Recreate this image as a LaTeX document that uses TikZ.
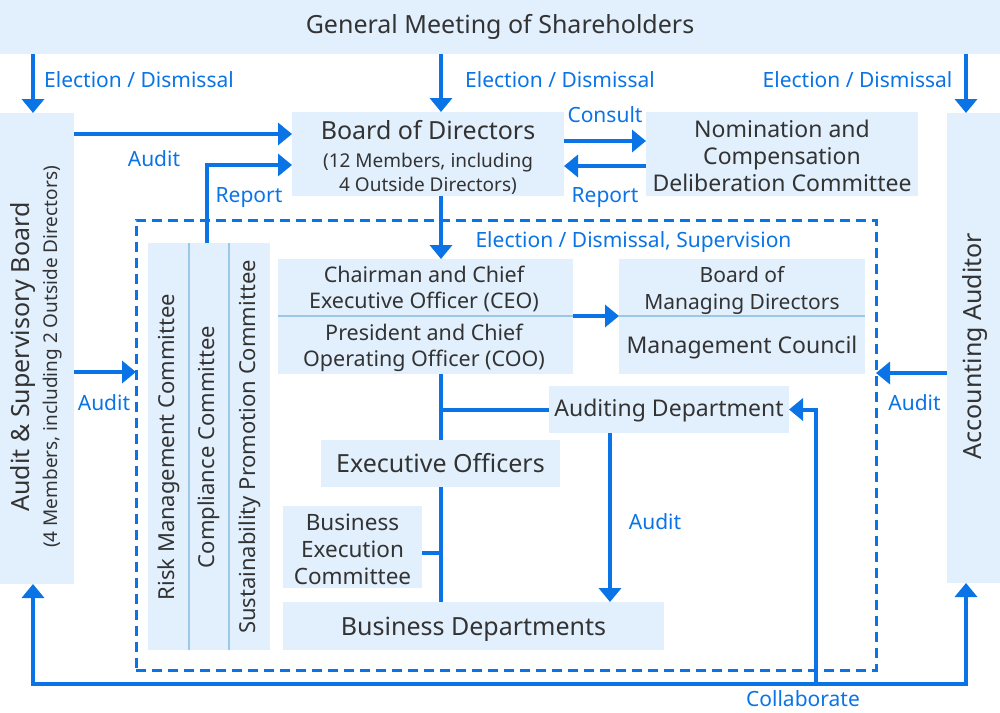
\documentclass[tikz,border=0pt]{standalone}
\usepackage{fontspec}
\setmainfont{Noto Sans}
\usetikzlibrary{arrows.meta,calc}
\definecolor{boxfill}{HTML}{E2F0FD}
\definecolor{ablue}{HTML}{0A74E6}
\definecolor{txt}{HTML}{333333}
\definecolor{divline}{HTML}{9CC8E8}
\newcommand{\fs}[2]{\fontsize{#1}{#2}\selectfont}
\begin{document}
\begin{tikzpicture}[x=1pt,y=-1pt,
 box/.style={fill=boxfill, inner sep=0pt, outer sep=0pt, text=txt, align=center},
 txtn/.style={text=txt, inner sep=0pt, align=center},
 lbl/.style={text=ablue, font=\fs{21}{25}, inner sep=0pt},
 arr/.style={draw=ablue, line width=4pt, -{Triangle[length=14pt,width=22pt]}},
 ln/.style={draw=ablue, line width=4pt},
 divl/.style={draw=divline, line width=2pt},
 dashbox/.style={draw=ablue, line width=3pt, dash pattern=on 10pt off 6pt, inner sep=0pt, outer sep=0pt}]
\useasboundingbox (0,0) rectangle (1000,712);

% boxes
\node[box, minimum width=1000pt, minimum height=54pt, font=\fs{25}{30}] (gm) at (500,27) {General Meeting of Shareholders};
\node[box, minimum width=74pt, minimum height=471pt] (asb) at (37,348.5) {};
\node[txtn, rotate=90, font=\fs{25}{30}] (asbT) at (23,357) {Audit \& Supervisory Board};
\node[txtn, rotate=90, font=\fs{19}{23}] (asbS) at (53,357) {(4 Members, including 2 Outside Directors)};
\node[box, minimum width=53pt, minimum height=470pt] (aa) at (973.5,348) {};
\node[txtn, rotate=90, font=\fs{25}{30}] (aaT) at (975,346) {Accounting Auditor};

\node[box, minimum width=272pt, minimum height=84pt] (bod) at (428,154) {};
\node[txtn, font=\fs{25}{30}] (bodT) at (428,130) {Board of Directors};
\node[txtn, font=\fs{19}{24}] (bodS) at (428,174) {(12 Members, including\\4 Outside Directors)};
\node[box, minimum width=272pt, minimum height=84pt] (nom) at (782,154) {};
\node[txtn, font=\fs{23}{27}] (nomT) at (782,155.5) {Nomination and\\Compensation\\Deliberation Committee};

\node[dashbox, minimum width=740pt, minimum height=450pt] (exec) at (506,445) {};

\node[box, minimum width=122pt, minimum height=407pt] (comm) at (209,446.5) {};
\draw[divl] ($(comm.north west)+(41,0)$) -- ($(comm.south west)+(41,0)$);
\draw[divl] ($(comm.north west)+(81,0)$) -- ($(comm.south west)+(81,0)$);
\node[txtn, rotate=90, font=\fs{22}{26}] (cRisk) at (169,447) {Risk Management Committee};
\node[txtn, rotate=90, font=\fs{22}{26}] (cComp) at (209,447) {Compliance Committee};
\node[txtn, rotate=90, font=\fs{22}{26}] (cSus) at (250,447) {Sustainability Promotion Committee};

\node[box, minimum width=295pt, minimum height=57pt] (ceo) at (425.5,287.5) {};
\node[txtn, font=\fs{21.5}{26}] (ceoT) at (424,288.5) {Chairman and Chief\\Executive Officer (CEO)};
\node[box, minimum width=295pt, minimum height=58pt] (coo) at (425.5,345) {};
\node[txtn, font=\fs{21.5}{26}] (cooT) at (424,348) {President and Chief\\Operating Officer (COO)};
\draw[divl] (ceo.south west) -- (ceo.south east);
\node[box, minimum width=246pt, minimum height=57pt] (bmd) at (742,287.5) {};
\node[txtn, font=\fs{21}{27}] (bmdT) at (742,290.5) {Board of\\Managing Directors};
\node[box, minimum width=246pt, minimum height=58pt] (mc) at (742,345) {};
\node[txtn, font=\fs{23}{27}] (mcT) at (742,348) {Management Council};
\draw[divl] (bmd.south west) -- (bmd.south east);

\node[box, minimum width=240pt, minimum height=47pt] (ad) at (669,409.5) {};
\node[txtn, font=\fs{23}{27}] (adT) at (669,411) {Auditing Department};
\node[box, minimum width=239pt, minimum height=47pt, font=\fs{25}{30}] (eo) at (440.5,463.5) {Executive Officers};
\node[box, minimum width=139pt, minimum height=82pt] (bec) at (352.5,547) {};
\node[txtn, font=\fs{22.5}{27}] (becT) at (352.5,549.5) {Business\\Execution\\Committee};
\node[box, minimum width=381pt, minimum height=48pt] (bd) at (473.5,626) {};
\node[txtn, font=\fs{25}{30}] (bdT) at (473.5,629.5) {Business Departments};

% labels
\node[lbl] (lED1) at (139,80) {Election / Dismissal};
\node[lbl] (lED2) at (560,80) {Election / Dismissal};
\node[lbl] (lED3) at (857.5,80) {Election / Dismissal};
\node[lbl] (lAud1) at (154,159) {Audit};
\node[lbl] (lRep1) at (249,197.5) {Report};
\node[lbl] (lCon) at (605,115) {Consult};
\node[lbl] (lRep2) at (605,197.5) {Report};
\node[lbl] (lEDS) at (633.5,242) {Election / Dismissal, Supervision};
\node[lbl] (lAud2) at (104,403) {Audit};
\node[lbl] (lAud3) at (914.5,403) {Audit};
\node[lbl] (lAud4) at (655,522) {Audit};
\node[lbl] (lCol) at (803,699) {Collaborate};

% helper coordinates
\coordinate (spine) at (441,0);
\coordinate (x207) at (207,0);
\coordinate (x610) at (610,0);
\coordinate (y134) at (0,134);
\coordinate (y141) at (0,141);
\coordinate (y165) at (0,165);
\coordinate (y166) at (0,166);
\coordinate (y372) at (0,372);
\coordinate (y373) at (0,373);
\coordinate (y553) at (0,553);
\coordinate (collab) at (816,684);

% connectors
\draw[arr] ($(gm.south -| asb.north)+(-4,0)$) -- ($(asb.north)+(-4,0)$);
\draw[arr] (gm.south -| spine) -- (bod.north -| spine);
\draw[arr] ($(gm.south -| aa.north)+(-7.5,0)$) -- ($(aa.north)+(-7.5,0)$);
\draw[arr] (asb.east |- y134) -- (bod.west |- y134);
\draw[arr] (comm.north -| x207) |- (bod.west |- y165);
\draw[arr] (bod.east |- y141) -- (nom.west |- y141);
\draw[arr] (nom.west |- y166) -- (bod.east |- y166);
\draw[arr] (bod.south -| spine) -- (ceo.north -| spine);
\draw[arr] (asb.east |- y372) -- (exec.west |- y372);
\draw[arr] (aa.west |- y373) -- (exec.east |- y373);
\draw[arr] (ceo.south east) -- (bmd.south west);
\draw[ln] (coo.south -| spine) -- (eo.north -| spine);
\draw[ln] (eo.south -| spine) -- (bd.north -| spine);
\draw[ln] (spine |- ad.west) -- (ad.west);
\draw[ln] (bec.east |- y553) -- (spine |- y553);
\draw[arr] (ad.south -| x610) -- (bd.north -| x610);
\draw[arr] (collab) -| ($(asb.south)+(-4,0)$);
\draw[arr] (collab) -| ($(aa.south)+(-7.5,0)$);
\draw[arr] (collab) |- (ad.east);
\end{tikzpicture}
\end{document}
